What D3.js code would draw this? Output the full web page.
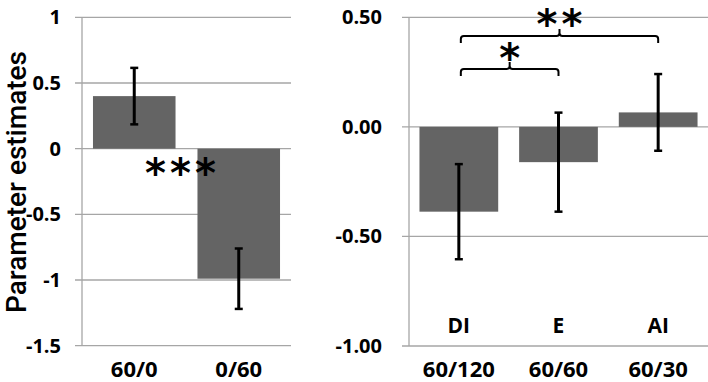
<!DOCTYPE html>
<html>
<head>
<meta charset="utf-8">
<script src="https://cdn.jsdelivr.net/npm/d3@7"></script>
<style>
  body { margin: 0; background: #fff; }
  svg text { font-family: "Open Sans", "Liberation Sans", sans-serif; }
  svg text.star { font-family: "DejaVu Sans", sans-serif; font-weight: bold; font-size: 40px; letter-spacing: 4px; }
</style>
</head>
<body>
<div id="chart"></div>
<script>
// left panel
const leftCategories = ["60/0", "0/60"];
const leftValues = [0.40, -0.99];
const leftErrors = [0.215, 0.23];
const leftTicks = [1, 0.5, 0, -0.5, -1, -1.5];

// right panel
const rightCategories = ["60/120", "60/60", "60/30"];
const rightGroups = ["DI", "E", "AI"];
const rightValues = [-0.387, -0.161, 0.066];
const rightErrors = [0.217, 0.226, 0.175];
const rightTicks = [0.5, 0, -0.5, -1];

// significance brackets (category index pairs)
const bracketPairs = [[0, 1], [0, 2]];
const bracketLabels = ["*", "**"];

const width = 708, height = 382;
const BAR = "#646464", GRID = "#a6a6a6";

const svg = d3.select("#chart").append("svg")
    .attr("width", width)
    .attr("height", height);

function drawPanel(opts) {
    const { x0, x1, y, cats, values, errors, ticks, fmt, labelGap } = opts;

    const x = d3.scaleBand()
        .domain(cats)
        .range([x0, x1])
        .paddingInner(0.21)
        .paddingOuter(0.105);

    // gridlines
    svg.append("g").selectAll("line")
        .data(ticks)
        .enter().append("line")
        .attr("x1", x0 - 7)
        .attr("x2", x1)
        .attr("y1", d => y(d))
        .attr("y2", d => y(d))
        .attr("stroke", GRID)
        .attr("stroke-width", 1.3);

    // y axis line
    svg.append("line")
        .attr("x1", x0).attr("x2", x0)
        .attr("y1", y(ticks[0])).attr("y2", y(ticks[ticks.length - 1]))
        .attr("stroke", GRID)
        .attr("stroke-width", 1.3);

    // tick labels
    const axis = d3.axisLeft(y)
        .tickValues(ticks)
        .tickSize(0)
        .tickPadding(labelGap)
        .tickFormat(fmt);
    const ga = svg.append("g")
        .attr("transform", `translate(${x0},0)`)
        .call(axis);
    ga.select(".domain").remove();
    ga.selectAll("text")
        .style("font-family", "'Open Sans', sans-serif")
        .style("font-size", "20px")
        .style("font-weight", "bold")
        .attr("fill", "#000");

    // bars
    svg.append("g").selectAll("rect")
        .data(values)
        .enter().append("rect")
        .attr("x", (d, i) => x(cats[i]))
        .attr("width", x.bandwidth())
        .attr("y", d => y(Math.max(0, d)))
        .attr("height", d => Math.abs(y(d) - y(0)))
        .attr("fill", BAR);

    // error bars
    const eb = svg.append("g").selectAll("g")
        .data(values)
        .enter().append("g");
    eb.append("line")
        .attr("x1", (d, i) => x(cats[i]) + x.bandwidth() / 2)
        .attr("x2", (d, i) => x(cats[i]) + x.bandwidth() / 2)
        .attr("y1", (d, i) => y(d + errors[i]))
        .attr("y2", (d, i) => y(d - errors[i]))
        .attr("stroke", "#000")
        .attr("stroke-width", 3);
    [1, -1].forEach(s => {
        eb.append("line")
            .attr("x1", (d, i) => x(cats[i]) + x.bandwidth() / 2 - 4)
            .attr("x2", (d, i) => x(cats[i]) + x.bandwidth() / 2 + 4)
            .attr("y1", (d, i) => y(d + s * errors[i]))
            .attr("y2", (d, i) => y(d + s * errors[i]))
            .attr("stroke", "#000")
            .attr("stroke-width", 2.5);
    });

    // category labels
    svg.append("g").selectAll("text")
        .data(cats)
        .enter().append("text")
        .attr("x", d => x(d) + x.bandwidth() / 2)
        .attr("y", 377)
        .attr("text-anchor", "middle")
        .style("font-size", "22px")
        .style("font-weight", "bold")
        .text(d => d);

    return x;
}

const hyphen = f => (d => f(d).replace("\u2212", "-"));

// left panel
const yLeft = d3.scaleLinear().domain([-1.5, 1]).range([345.7, 17.3]);
const xLeft = drawPanel({
    x0: 82, x1: 291, y: yLeft,
    cats: leftCategories, values: leftValues, errors: leftErrors,
    ticks: leftTicks, fmt: hyphen(d3.format("")), labelGap: 21
});

svg.append("text")
    .attr("transform", `translate(26,${182}) rotate(-90)`)
    .attr("text-anchor", "middle")
    .style("font-family", "Roboto, sans-serif")
    .style("font-weight", 500)
    .style("font-size", "28px")
    .text("Parameter estimates");

svg.append("text")
    .attr("class", "star")
    .attr("x", (xLeft(leftCategories[0]) + xLeft(leftCategories[1]) + xLeft.bandwidth()) / 2)
    .attr("dx", -4)
    .attr("y", 187)
    .attr("text-anchor", "middle")
    .text("***");

// right panel
const yRight = d3.scaleLinear().domain([-1, 0.5]).range([346, 17.3]);
const xRight = drawPanel({
    x0: 409, x1: 708, y: yRight,
    cats: rightCategories, values: rightValues, errors: rightErrors,
    ticks: rightTicks, fmt: hyphen(d3.format(".2f")), labelGap: 27
});

svg.append("g").selectAll("text")
    .data(rightGroups)
    .enter().append("text")
    .attr("x", (d, i) => xRight(rightCategories[i]) + xRight.bandwidth() / 2)
    .attr("y", 333)
    .attr("text-anchor", "middle")
    .style("font-size", "21px")
    .style("font-weight", "bold")
    .text(d => d);

// brackets
const bracketY = [69, 36];
const labelBase = [71.5, 37.5];
bracketPairs.forEach((p, k) => {
    const cx = i => xRight(rightCategories[i]) + xRight.bandwidth() / 2;
    const xa = cx(p[0]) + 2, xb = cx(p[1]);
    const yb = bracketY[k];
    const xm = (xa + xb) / 2;
    const r = 3;
    const path = d3.path();
    path.moveTo(xa, yb + 7);
    path.lineTo(xa, yb + r);
    path.quadraticCurveTo(xa, yb, xa + r, yb);
    path.lineTo(xm - r, yb);
    path.quadraticCurveTo(xm, yb, xm, yb - r);
    path.lineTo(xm, yb - 7);
    path.moveTo(xm, yb - r);
    path.quadraticCurveTo(xm, yb, xm + r, yb);
    path.lineTo(xb - r, yb);
    path.quadraticCurveTo(xb, yb, xb, yb + r);
    path.lineTo(xb, yb + 7);
    svg.append("path")
        .attr("d", path.toString())
        .attr("fill", "none")
        .attr("stroke", "#000")
        .attr("stroke-width", 2);

    svg.append("text")
        .attr("class", "star")
        .attr("x", xm)
        .attr("dx", 2)
        .attr("y", labelBase[k])
        .attr("text-anchor", "middle")
        .text(bracketLabels[k]);
});
</script>
</body>
</html>
